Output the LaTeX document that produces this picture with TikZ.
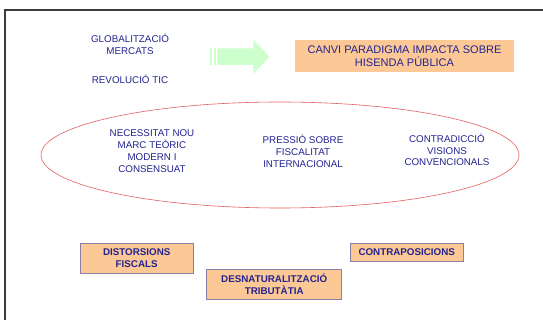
\documentclass[tikz,border=0pt]{standalone}
\usepackage{fontspec}
\setmainfont{Liberation Sans}
\usetikzlibrary{shapes.geometric}
\definecolor{navy}{RGB}{35,35,145}
\definecolor{peach}{RGB}{251,200,150}
\definecolor{boxline}{RGB}{140,125,165}
\definecolor{arrowgreen}{RGB}{204,255,204}
\definecolor{ellred}{RGB}{225,95,95}
\definecolor{framegray}{RGB}{60,60,60}
\begin{document}
\begin{tikzpicture}[x=1pt,y=-1pt,
  lbl/.style={font=\fontsize{9.8}{11.8}\selectfont, text=navy, align=center, inner sep=0},
  bbox/.style={draw=boxline, line width=0.8pt, fill=peach, inner sep=0,
    font=\fontsize{9.8}{11.5}\selectfont\bfseries, text=navy, align=center}]
\useasboundingbox (0,0) rectangle (543,320);
\fill[white] (0,0) rectangle (543,320);
\draw[framegray, line width=1.2pt] (5,320) -- (5,10) -- (543,10);

% top-left texts
\node[lbl] (glob) at (130,44) {GLOBALITZACIÓ\\MERCATS};
\node[lbl] (rev) at (130,79.5) {REVOLUCIÓ TIC};

% striped arrow
\fill[arrowgreen] (210,48.3) rectangle (212,65);
\fill[arrowgreen] (213.5,48.3) rectangle (216,65);
\fill[arrowgreen] (217.3,48.3) -- (253.3,48.3) -- (253.3,39.3) -- (269.3,56.7)
  -- (253.3,74) -- (253.3,65) -- (217.3,65) -- cycle;

% top box
\node[lbl, fill=peach, minimum width=219pt, minimum height=32pt,
  font=\fontsize{11}{13}\selectfont] (canvi) at (404.5,56)
  {CANVI PARADIGMA IMPACTA SOBRE\\HISENDA PÚBLICA};

% ellipse
\node[draw=ellred, ellipse, minimum width=478pt, minimum height=106pt, inner sep=0,
  line width=0.6pt] (ell) at (280,155) {};
\node[lbl] (nec) at (152,151) {NECESSITAT NOU\\MARC TEÒRIC\\MODERN I\\CONSENSUAT};
\node[lbl] (pres) at (303,151.5) {PRESSIÓ SOBRE\\FISCALITAT\\INTERNACIONAL};
\node[lbl] (contr) at (447,150) {CONTRADICCIÓ\\VISIONS\\CONVENCIONALS};

% bottom boxes
\node[bbox, minimum width=113pt, minimum height=30pt] (dist) at (136.7,258.3) {DISTORSIONS\\FISCALS};
\node[bbox, minimum width=135pt, minimum height=30pt] (desn) at (274.2,284.2) {DESNATURALITZACIÓ\\TRIBUTÀTIA};
\node[bbox, minimum width=113pt, minimum height=18pt] (contra) at (406.7,252.3) {CONTRAPOSICIONS};
\end{tikzpicture}
\end{document}
